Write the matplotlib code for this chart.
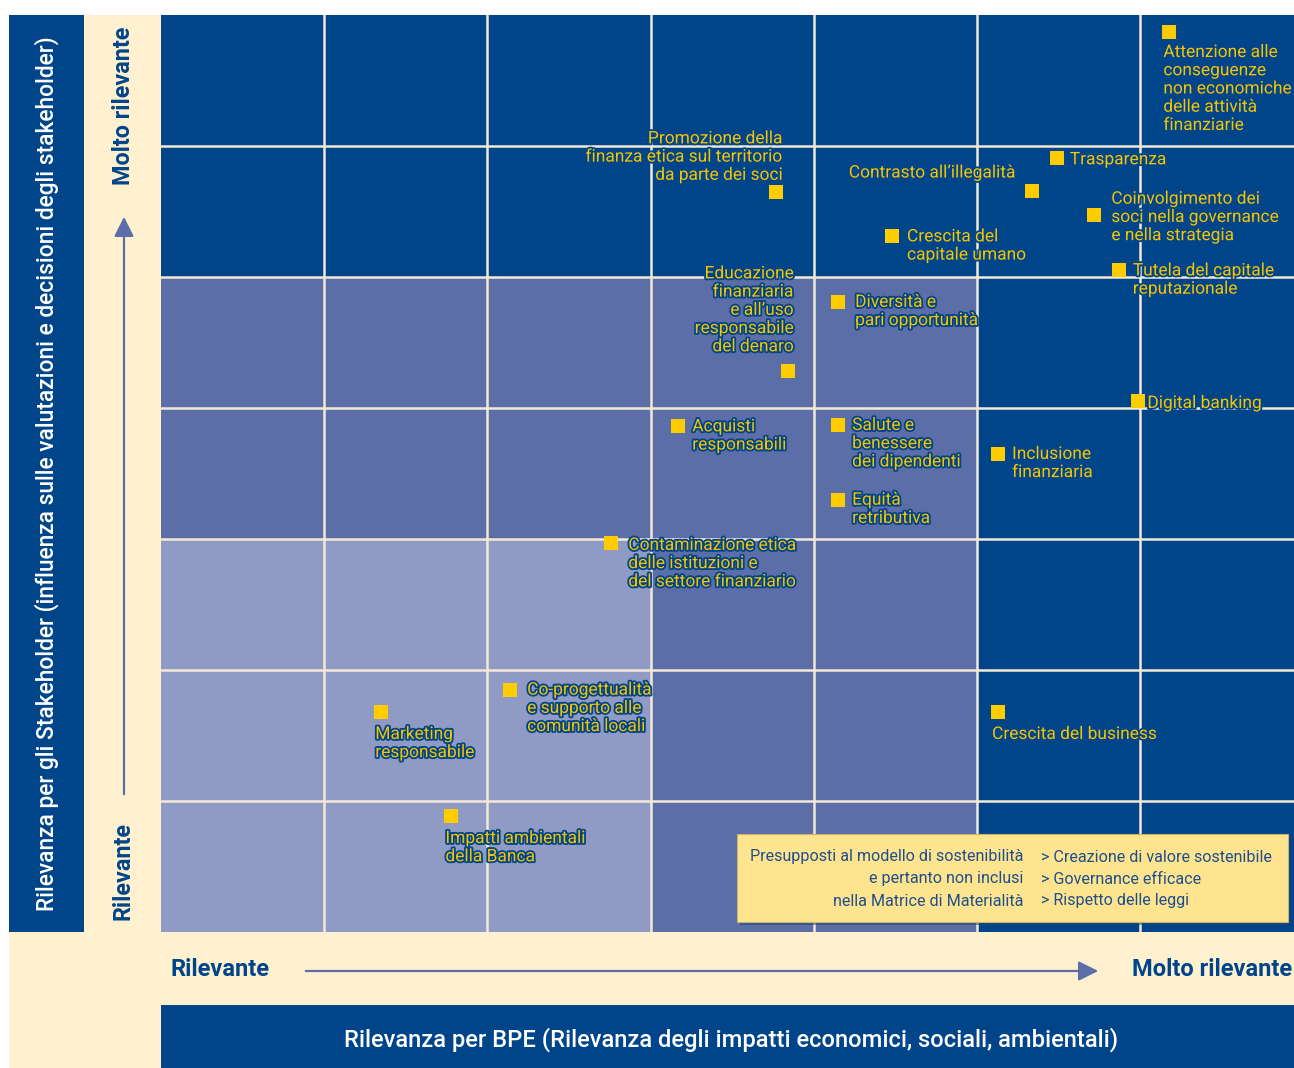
import matplotlib
matplotlib.use("Agg")
import matplotlib.pyplot as plt
import matplotlib.patheffects as pe
from matplotlib.patches import Rectangle, FancyArrowPatch

plt.rcParams['font.family'] = ['Roboto', 'DejaVu Sans']

# --- data -------------------------------------------------------------
# BPE relevance (x) and stakeholder relevance (y) in grid units (7x7 matrix)
topics = [
    "Attenzione alle\nconseguenze\nnon economiche\ndelle attività\nfinanziarie",
    "Trasparenza",
    "Contrasto all’illegalità",
    "Coinvolgimento dei\nsoci nella governance\ne nella strategia",
    "Crescita del\ncapitale umano",
    "Promozione della\nfinanza etica sul territorio\nda parte dei soci",
    "Tutela del capitale\nreputazionale",
    "Educazione\nfinanziaria\ne all’uso\nresponsabile\ndel denaro",
    "Diversità e\npari opportunità",
    "Digital banking",
    "Acquisti\nresponsabili",
    "Salute e\nbenessere\ndei dipendenti",
    "Equità\nretributiva",
    "Inclusione\nfinanziaria",
    "Contaminazione etica\ndelle istituzioni e\ndel settore finanziario",
    "Co-progettualità\ne supporto alle\ncomunità locali",
    "Marketing\nresponsabile",
    "Crescita del business",
    "Impatti ambientali\ndella Banca",
]
bpe_rel = [6.18, 5.49, 5.34, 5.72, 4.48, 3.77, 5.87, 3.84, 4.15, 5.99,
           3.17, 4.15, 4.15, 5.13, 2.76, 2.14, 1.35, 5.13, 1.78]
stk_rel = [6.87, 5.91, 5.66, 5.47, 5.31, 5.65, 5.05, 4.28, 4.81, 4.05,
           3.86, 3.87, 3.30, 3.65, 2.97, 1.85, 1.68, 1.68, 0.885]

# shade level of each cell, bottom row first (1 light, 2 medium, 3 dark)
cell_levels = [
    [1, 1, 1, 2, 2, 3, 3],
    [1, 1, 1, 2, 2, 3, 3],
    [1, 1, 1, 2, 2, 3, 3],
    [2, 2, 2, 2, 2, 3, 3],
    [2, 2, 2, 2, 2, 3, 3],
    [3, 3, 3, 3, 3, 3, 3],
    [3, 3, 3, 3, 3, 3, 3],
]

box_left = ["Presupposti al modello di sostenibilità", "e pertanto non inclusi",
            "nella Matrice di Materialità"]
box_right = ["> Creazione di valore sostenibile", "> Governance efficace",
             "> Rispetto delle leggi"]

# --- style ------------------------------------------------------------
NAVY = "#00458A"
MED = "#5B6EA7"
LIGHT = "#8F9BC4"
CREAM = "#FFF0D0"
YELLOW = "#FFCC00"
TXT_Y = "#F5C400"
shade = {1: LIGHT, 2: MED, 3: NAVY}

# label placement relative to marker: (dx px, dy px, ha, va)
place = {
    "below": (-6, -15, "left", "top"),
    "right": (14, 7, "left", "top"),
    "side": (13, -2, "left", "center"),
    "above_l": (6, 9, "right", "bottom"),
}
label_place = ["below", "side", "above_l", "side", "right", "above_l", "right",
               "above_l", "right", "side", "right", "right", "right", "right",
               "right", "right", "below", "below", "below"]
label_shift = {2: (-23, 1), 9: (-4, 0), 7: (0, 8), 3: (4, 0), 0: (0, 2),
               8: (3, 0), 14: (3, -2), 15: (3, 0), 4: (1, 0)}

W, H = 1294, 1068
fig = plt.figure(figsize=(W / 100, H / 100), dpi=100)
fig.patch.set_facecolor("white")

# background / frame axes in pixel coordinates
bg = fig.add_axes([0, 0, 1, 1])
bg.set_xlim(0, W)
bg.set_ylim(H, 0)
bg.axis("off")
bg.add_patch(Rectangle((9, 15), W - 9, H - 15, color=CREAM, lw=0))
bg.add_patch(Rectangle((9, 15), 75, 917, color=NAVY, lw=0))
bg.add_patch(Rectangle((161, 1005), W - 161, 63, color=NAVY, lw=0))

bg.text(47, 474, "Rilevanza per gli Stakeholder (influenza sulle valutazioni e decisioni degli stakeholder)",
        rotation=90, color="white", fontsize=16.4, ha="center", va="center", fontweight="medium")
bg.text(731, 1040, "Rilevanza per BPE (Rilevanza degli impatti economici, sociali, ambientali)",
        color="white", fontsize=17.1, ha="center", va="center", fontweight="medium")

bg.text(123, 106, "Molto rilevante", rotation=90, color=NAVY, fontsize=16.8,
        fontweight="bold", ha="center", va="center")
bg.text(123, 871, "Rilevante", rotation=90, color=NAVY, fontsize=16.8,
        fontweight="bold", ha="center", va="center")
bg.text(171, 969, "Rilevante", color=NAVY, fontsize=17, fontweight="bold",
        ha="left", va="center")
bg.text(1292, 969, "Molto rilevante", color=NAVY, fontsize=17, fontweight="bold",
        ha="right", va="center")
bg.add_patch(FancyArrowPatch((124, 797), (124, 214), arrowstyle="-|>,head_length=8,head_width=4",
                             color=MED, lw=1.6, mutation_scale=1.5))
bg.add_patch(FancyArrowPatch((303, 971), (1101, 971), arrowstyle="-|>,head_length=8,head_width=4",
                             color=MED, lw=1.6, mutation_scale=1.5))

# matrix axes
x0, y_top, y_bot = 161, 15, 932
col_w = 979 / 6
ax = fig.add_axes([x0 / W, (H - y_bot) / H, (W - x0) / W, (y_bot - y_top) / H])
ax.set_xlim(0, (W - x0) / col_w)
ax.set_ylim(0, 7)
ax.axis("off")

for r, row in enumerate(cell_levels):
    for c, lev in enumerate(row):
        ax.add_patch(Rectangle((c, r), 1, 1, color=shade[lev], lw=0, zorder=1))
for k in range(1, 7):
    ax.axvline(k, color="#F3E9D6", lw=1.8, zorder=2)
    ax.axhline(k, color="#F3E9D6", lw=1.8, zorder=2)

ax.scatter(bpe_rel, stk_rel, marker="s", s=95, color=YELLOW, lw=0, zorder=4)

stroke = [pe.withStroke(linewidth=2.6, foreground=NAVY)]
for i, (name, xv, yv) in enumerate(zip(topics, bpe_rel, stk_rel)):
    dx, dy, ha, va = place[label_place[i]]
    sx, sy = label_shift.get(i, (0, 0))
    ax.annotate(name, (xv, yv), xytext=((dx + sx) * 0.72, (dy + sy) * 0.72),
                textcoords="offset points", ha=ha, va=va, multialignment=ha,
                color=TXT_Y, fontsize=12.5, linespacing=1.27, zorder=5,
                path_effects=stroke)

# note box on an overlay in pixel coordinates
top = fig.add_axes([0, 0, 1, 1])
top.set_xlim(0, W)
top.set_ylim(H, 0)
top.axis("off")
top.patch.set_visible(False)
top.add_patch(Rectangle((740, 837), 551, 88, color="#1E3F73", alpha=0.5, lw=0))
top.add_patch(Rectangle((737, 834), 551, 88, facecolor="#FEE48E", edgecolor="#C9B46A",
                        lw=0.8))
for j, (lt, rt) in enumerate(zip(box_left, box_right)):
    yy = 857 + j * 22
    top.text(1023, yy, lt, ha="right", va="center", color="#1F4E8C", fontsize=11.6)
    top.text(1041, yy, rt, ha="left", va="center", color="#1F4E8C", fontsize=11.6)

bg.set_zorder(0)
ax.set_zorder(1)
top.set_zorder(2)
ax.patch.set_visible(False)

fig.savefig("out.png", dpi=100)
